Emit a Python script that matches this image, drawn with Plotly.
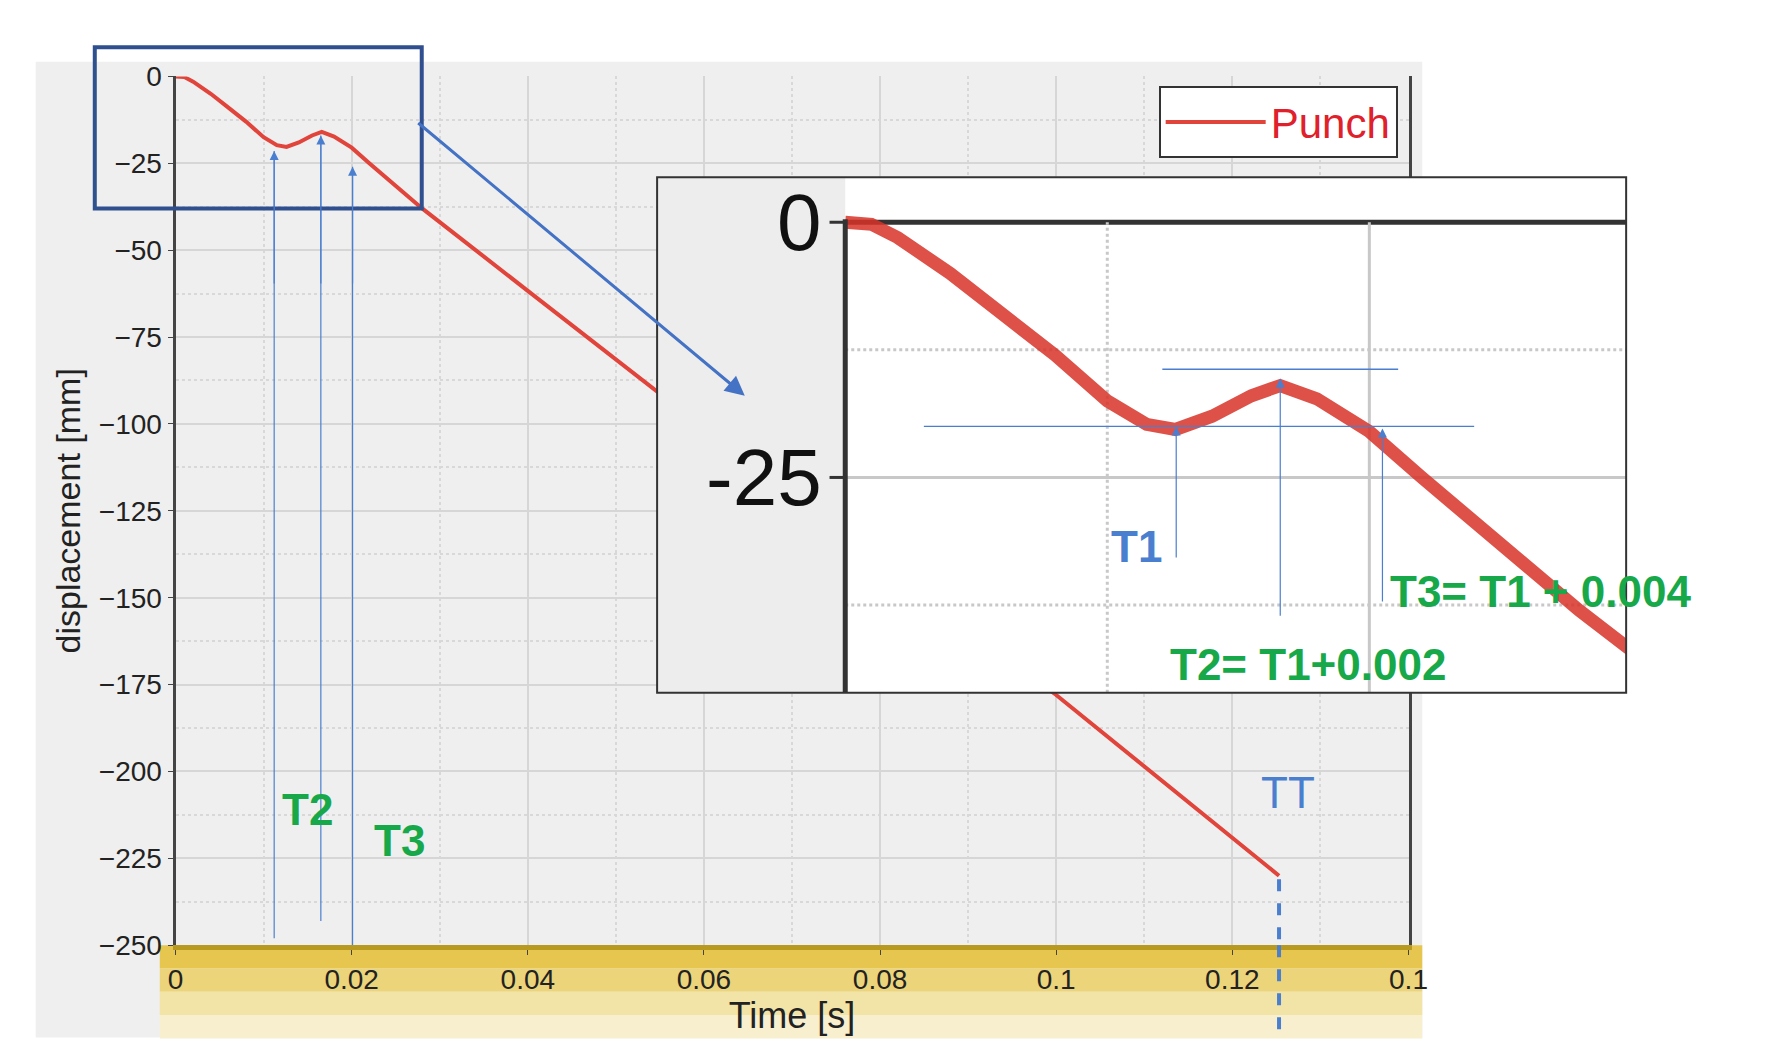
import plotly.graph_objects as go

W, H = 1776, 1060
def px(x): return x / W
def py(y): return 1 - y / H

# data
time_s = [0, 0.001, 0.002, 0.004, 0.006, 0.008, 0.010, 0.0115, 0.0126, 0.014, 0.0155, 0.0166,
          0.018, 0.020, 0.022, 0.025, 0.028, 0.04, 0.06, 0.08, 0.10, 0.1253]
disp_mm = [0, -0.2, -1.5, -5, -9, -13, -17.5, -19.8, -20.3, -19, -17, -16,
           -17.3, -20.5, -25, -31.5, -38, -61.7, -101, -140.6, -178, -230]
x_ticks = [0, 0.02, 0.04, 0.06, 0.08, 0.1, 0.12, 0.14]
x_tick_text = ["0", "0.02", "0.04", "0.06", "0.08", "0.1", "0.12", "0.1"]
y_ticks = [0, -25, -50, -75, -100, -125, -150, -175, -200, -225, -250]

RED = "#e0443a"; BLUE = "#4a7fd0"; GREEN = "#17a84a"; DBLUE = "#2f4f8f"
FONT = "Liberation Sans Narrow, Liberation Sans, Arial"

fig = go.Figure()
fig.add_trace(go.Scatter(x=time_s, y=disp_mm, mode="lines", name="Punch",
                         line=dict(color=RED, width=4), xaxis="x", yaxis="y"))
fig.add_trace(go.Scatter(x=time_s, y=disp_mm, mode="lines", showlegend=False,
                         line=dict(color="rgba(215,50,40,0.85)", width=13), xaxis="x2", yaxis="y2"))

shapes = []
shapes.append(dict(type="rect", xref="paper", yref="paper", x0=px(20), x1=px(1428), y0=py(1045), y1=py(40),
                   fillcolor="#efefef", line_width=0, layer="below"))
for i, c in enumerate(["#e6c64e", "#ecd47a", "#f2e3a6", "#f8efcf"]):
    shapes.append(dict(type="rect", xref="paper", yref="paper", x0=px(146), x1=px(1428),
                       y0=py(950 + 24 * (i + 1)), y1=py(950 + 24 * i), fillcolor=c, line_width=0, layer="below"))
for xv, y0, y1 in [(0.0112, -248, -21.5), (0.0165, -243, -17), (0.0201, -250, -26)]:
    shapes.append(dict(type="line", xref="x", yref="y", x0=xv, x1=xv, y0=y0, y1=y1,
                       line=dict(color=BLUE, width=1.2)))
shapes.append(dict(type="line", xref="x", yref="y", x0=0.1253, x1=0.1253, y0=-231, y1=-250,
                   line=dict(color=BLUE, width=4, dash="dash")))
shapes.append(dict(type="line", xref="x", yref="paper", x0=0.1253, x1=0.1253, y0=py(950), y1=py(1045),
                   line=dict(color=BLUE, width=4, dash="dash")))
shapes.append(dict(type="rect", xref="paper", yref="paper", x0=px(80), x1=px(412), y0=py(191), y1=py(25),
                   line=dict(color=DBLUE, width=4)))
shapes.append(dict(type="rect", xref="x2", yref="y2", x0=-0.00718, x1=0, y0=-46.1, y1=4.4,
                   fillcolor="#ededed", line_width=0, layer="below"))
for yv, dash, col, wd in [(-12.5, "dot", "#c8c8c8", 3), (-37.5, "dot", "#c8c8c8", 3), (-25, "solid", "#c8c8c8", 3),
                          (0, "solid", "#333", 5)]:
    shapes.append(dict(type="line", xref="x2", yref="y2", x0=0, x1=0.0298, y0=yv, y1=yv,
                       line=dict(color=col, width=wd, dash=dash), layer="below"))
for xv, dash in [(0.01, "dot"), (0.02, "solid")]:
    shapes.append(dict(type="line", xref="x2", yref="y2", x0=xv, x1=xv, y0=-46.1, y1=0,
                       line=dict(color="#c8c8c8", width=3, dash=dash), layer="below"))
shapes.append(dict(type="line", xref="x2", yref="y2", x0=0, x1=0, y0=-46.1, y1=0.3,
                   line=dict(color="#333", width=5)))
for yv in [0, -25]:
    shapes.append(dict(type="line", xref="x2", yref="y2", x0=-0.0006, x1=0, y0=yv, y1=yv,
                       line=dict(color="#333", width=3)))
shapes.append(dict(type="rect", xref="paper", yref="paper", x0=px(651), x1=px(1635), y0=py(690), y1=py(159),
                   line=dict(color="#333", width=2)))
shapes.append(dict(type="line", xref="x2", yref="y2", x0=0.003, x1=0.024, y0=-20, y1=-20, line=dict(color=BLUE, width=1.3)))
shapes.append(dict(type="line", xref="x2", yref="y2", x0=0.0121, x1=0.0211, y0=-14.4, y1=-14.4, line=dict(color=BLUE, width=1.3)))

ann = []
def arrow(x, y, ax, ay, xr, yr, col=BLUE, w=1.2, size=1.5):
    ann.append(dict(x=x, y=y, ax=ax, ay=ay, xref=xr, yref=yr, axref=xr, ayref=yr, text="",
                    showarrow=True, arrowhead=2, arrowsize=size, arrowwidth=w, arrowcolor=col))
for xv, y0, y1 in [(0.0112, -60, -21.5), (0.0165, -60, -17), (0.0201, -60, -26)]:
    arrow(xv, y1, xv, y0, "x", "y")
for xv, y0, y1 in [(0.01263, -33, -20), (0.0166, -38.7, -15.3), (0.0205, -37.3, -20.2)]:
    arrow(xv, y1, xv, y0, "x2", "y2")
ann.append(dict(x=px(740), y=py(384), xref="paper", yref="paper", ax=412 - 740, ay=110 - 384,
                axref="pixel", ayref="pixel", text="", showarrow=True, arrowhead=2, arrowsize=1.3,
                arrowwidth=3, arrowcolor="#4472c4"))

def txt(x, y, t, col, size, xr="x", yr="y", xa="center", bold=True):
    ann.append(dict(x=x, y=y, xref=xr, yref=yr, text=f"<b>{t}</b>" if bold else t, showarrow=False,
                    xanchor=xa, font=dict(color=col, size=size, family="Liberation Sans, Arial")))
txt(0.0150, -211, "T2", GREEN, 44)
txt(0.0254, -220, "T3", GREEN, 44)
txt(0.0131, -262, "T1", BLUE, 44)
txt(0.1263, -206, "TT", BLUE, 44, bold=False)
txt(0.0111, -31.8, "T1", BLUE, 44, "x2", "y2")
txt(0.0207, -36.2, "T3= T1 + 0.004", GREEN, 44, "x2", "y2", xa="left")
txt(0.0123, -43.3, "T2= T1+0.002", GREEN, 44, "x2", "y2", xa="left")
for yv in [0, -25]:
    ann.append(dict(x=-0.0008, y=yv, xref="x2", yref="y2", text=str(yv), showarrow=False, xanchor="right",
                    font=dict(size=80, color="#111", family=FONT)))

fig.update_layout(
    width=W, height=H, margin=dict(l=0, r=0, t=0, b=0),
    paper_bgcolor="white", plot_bgcolor="white",
    font=dict(family=FONT, color="#222", size=28),
    xaxis=dict(domain=[px(162), px(1414)], range=[0, 0.14], tickvals=x_ticks, ticktext=x_tick_text,
               showgrid=True, gridcolor="#d6d6d6", gridwidth=2,
               minor=dict(dtick=0.01, showgrid=True, gridcolor="#d8d8d8", griddash="dot", gridwidth=2),
               showline=True, linecolor="#b89a20", linewidth=5, mirror=False, ticks="outside", ticklen=5,
               zeroline=False, anchor="y",
               title=dict(text="Time [s]", font=dict(size=36), standoff=4)),
    yaxis=dict(domain=[py(950), py(55)], range=[-250, 0], tickvals=y_ticks,
               showgrid=True, gridcolor="#d6d6d6", gridwidth=2,
               minor=dict(dtick=12.5, showgrid=True, gridcolor="#d8d8d8", griddash="dot", gridwidth=2),
               showline=True, linecolor="#444", linewidth=3, mirror=True, ticks="outside", ticklen=5,
               zeroline=False, anchor="x",
               title=dict(text="displacement [mm]", font=dict(size=34), standoff=8)),
    xaxis2=dict(domain=[px(651), px(1635)], range=[-0.00718, 0.0298], visible=False, anchor="y2"),
    yaxis2=dict(domain=[py(690), py(159)], range=[-46.1, 4.4], visible=False, anchor="x2"),
    showlegend=True,
    legend=dict(x=px(1403), y=py(65), xanchor="right", yanchor="top", bgcolor="white",
                bordercolor="#333", borderwidth=2, font=dict(size=42, color="#e0202a", family="Liberation Sans, Arial"),
                itemwidth=100),
    shapes=shapes, annotations=ann,
)
fig.write_html("out.html")
